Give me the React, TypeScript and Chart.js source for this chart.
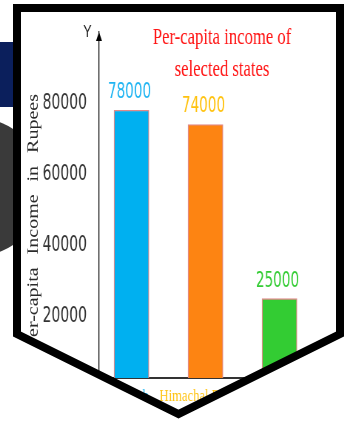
import React, { useEffect, useRef } from 'react';
import { Chart, registerables } from 'chart.js';

Chart.register(...registerables);

// ---- data ----
const categories = ['Punjab', 'Himachal Pradesh', 'Bihar'];
const incomes = [78000, 74000, 25000];
const barColors = ['#00b0f0', '#fd8412', '#33cc33'];
const textColors = ['#1eb4f2', '#ffc20e', '#33cc33'];
const yTickValues = [20000, 40000, 60000, 80000];
const titleLines = ['Per-capita income of', 'selected states'];
const yAxisTitle = 'Per-capita Income in Rupees';
const yAxisLetter = 'Y';

// The chart canvas is drawn wide and squeezed horizontally with CSS.
const SQUEEZE = 0.74;
const CANVAS_W = 600;
const CANVAS_H = 423;
const sx = (px: number) => px / SQUEEZE; // page px -> canvas px (horizontal)

const NARROW =
  "'Liberation Sans Narrow', 'Arial Narrow', 'DejaVu Sans Condensed', 'Liberation Sans', sans-serif";
const SERIF = "'Liberation Serif', 'Times New Roman', serif";
const SANS = "'Liberation Sans', Arial, sans-serif";

const SHIELD = 'M17 8H340V334L178.5 414L17 334Z';

const decorPlugin = {
  id: 'decor',
  afterDatasetsDraw(chart: any) {
    const { ctx } = chart;
    const meta = chart.getDatasetMeta(0);
    ctx.save();
    ctx.font = `20.5px ${NARROW}`;
    ctx.textAlign = 'center';
    ctx.textBaseline = 'alphabetic';
    meta.data.forEach((bar: any, i: number) => {
      ctx.fillStyle = textColors[i];
      ctx.fillText(String(incomes[i]), bar.x - sx(2), bar.y - 12);
    });
    ctx.restore();
  },
  afterDraw(chart: any) {
    const { ctx, chartArea } = chart;
    const x = chartArea.left;
    const y = chartArea.top;
    ctx.save();
    // arrow head on the value axis
    ctx.fillStyle = '#000';
    ctx.beginPath();
    ctx.moveTo(x, y);
    ctx.lineTo(x + sx(3), y + 9);
    ctx.lineTo(x - sx(3), y + 9);
    ctx.closePath();
    ctx.fill();
    // axis letter
    ctx.font = `17px ${SANS}`;
    ctx.fillStyle = '#222';
    ctx.textAlign = 'center';
    ctx.textBaseline = 'alphabetic';
    ctx.fillText(yAxisLetter, x - sx(11.5), y + 5);
    // title
    ctx.font = `22.5px ${SERIF}`;
    ctx.fillStyle = '#ff1414';
    titleLines.forEach((line, i) => {
      ctx.fillText(line, x + sx(123), 43.5 + i * 32);
    });
    ctx.restore();

    // value-axis title, reading bottom to top
    ctx.save();
    ctx.translate(x - sx(61.5), y + 62);
    ctx.rotate(-Math.PI / 2);
    ctx.font = `20px ${SERIF}`;
    (ctx as any).wordSpacing = '8px';
    ctx.fillStyle = '#2a2a2a';
    ctx.textAlign = 'right';
    ctx.textBaseline = 'alphabetic';
    ctx.fillText(yAxisTitle, 0, 0);
    ctx.restore();
  },
};

function IncomeChart() {
  const canvasRef = useRef<HTMLCanvasElement | null>(null);

  useEffect(() => {
    const canvas = canvasRef.current;
    if (!canvas) return;
    const chart = new Chart(canvas, {
      type: 'bar',
      data: {
        datasets: [
          {
            data: incomes.map((v, i) => ({ x: i + 1, y: v })),
            backgroundColor: barColors,
            borderColor: '#e08a8a',
            borderWidth: 1.3,
            barThickness: sx(35),
          },
        ],
      },
      plugins: [decorPlugin],
      options: {
        animation: false,
        responsive: false,
        devicePixelRatio: 1,
        layout: { padding: { top: 32, bottom: 15, left: 0, right: 0 } },
        plugins: {
          legend: { display: false },
          tooltip: { enabled: false },
          title: { display: false },
        },
        scales: {
          x: {
            type: 'linear',
            min: 0.561,
            max: 5.223,
            offset: false,
            afterFit: (s: any) => {
              s.height = 30;
            },
            afterBuildTicks: (s: any) => {
              s.ticks = categories.map((_, i) => ({ value: i + 1 }));
            },
            grid: { display: false, drawTicks: false },
            border: { display: true, color: '#333', width: 2 },
            ticks: {
              autoSkip: false,
              maxRotation: 0,
              padding: 8,
              color: (c: any) => textColors[c.index] || '#333',
              font: { family: SERIF, size: 17 },
              callback: (v: any) => categories[Math.round(Number(v)) - 1] ?? '',
            },
          },
          y: {
            min: 2700,
            max: 100000,
            afterFit: (s: any) => {
              s.width = sx(99);
            },
            afterBuildTicks: (s: any) => {
              s.ticks = yTickValues.map((v) => ({ value: v }));
            },
            grid: { display: false, drawTicks: false },
            border: { display: true, color: '#000', width: 1.3 },
            ticks: {
              padding: sx(12),
              color: '#333',
              font: { family: NARROW, size: 21 },
              callback: (v: any) => String(v),
            },
            title: { display: false },
          },
        },
      } as any,
    });
    return () => chart.destroy();
  }, []);

  return (
    <canvas
      ref={canvasRef}
      width={CANVAS_W}
      height={CANVAS_H}
      style={{
        position: 'absolute',
        left: 0,
        top: 0,
        width: CANVAS_W + 'px',
        height: CANVAS_H + 'px',
        transform: `scaleX(${SQUEEZE})`,
        transformOrigin: '0 0',
      }}
    />
  );
}

export default function App() {
  return (
    <div
      style={{
        position: 'fixed',
        left: 0,
        top: 0,
        width: 350,
        height: 423,
        overflow: 'hidden',
        background: '#fff',
      }}
    >
      <IncomeChart />
      <svg
        width={350}
        height={423}
        style={{ position: 'absolute', left: 0, top: 0, pointerEvents: 'none' }}
      >
        <defs>
          <clipPath id="leftStrip">
            <rect x={0} y={0} width={17} height={423} />
          </clipPath>
        </defs>
        <path d={`M0 0H350V423H0Z ${SHIELD}`} fill="#fff" fillRule="evenodd" />
        <rect x={0} y={42} width={17} height={65} fill="#0b1f5c" />
        <circle cx={-24} cy={187} r={69} fill="#3a3a3a" clipPath="url(#leftStrip)" />
        <path d={SHIELD} fill="none" stroke="#000" strokeWidth={8} strokeLinejoin="miter" />
      </svg>
    </div>
  );
}
